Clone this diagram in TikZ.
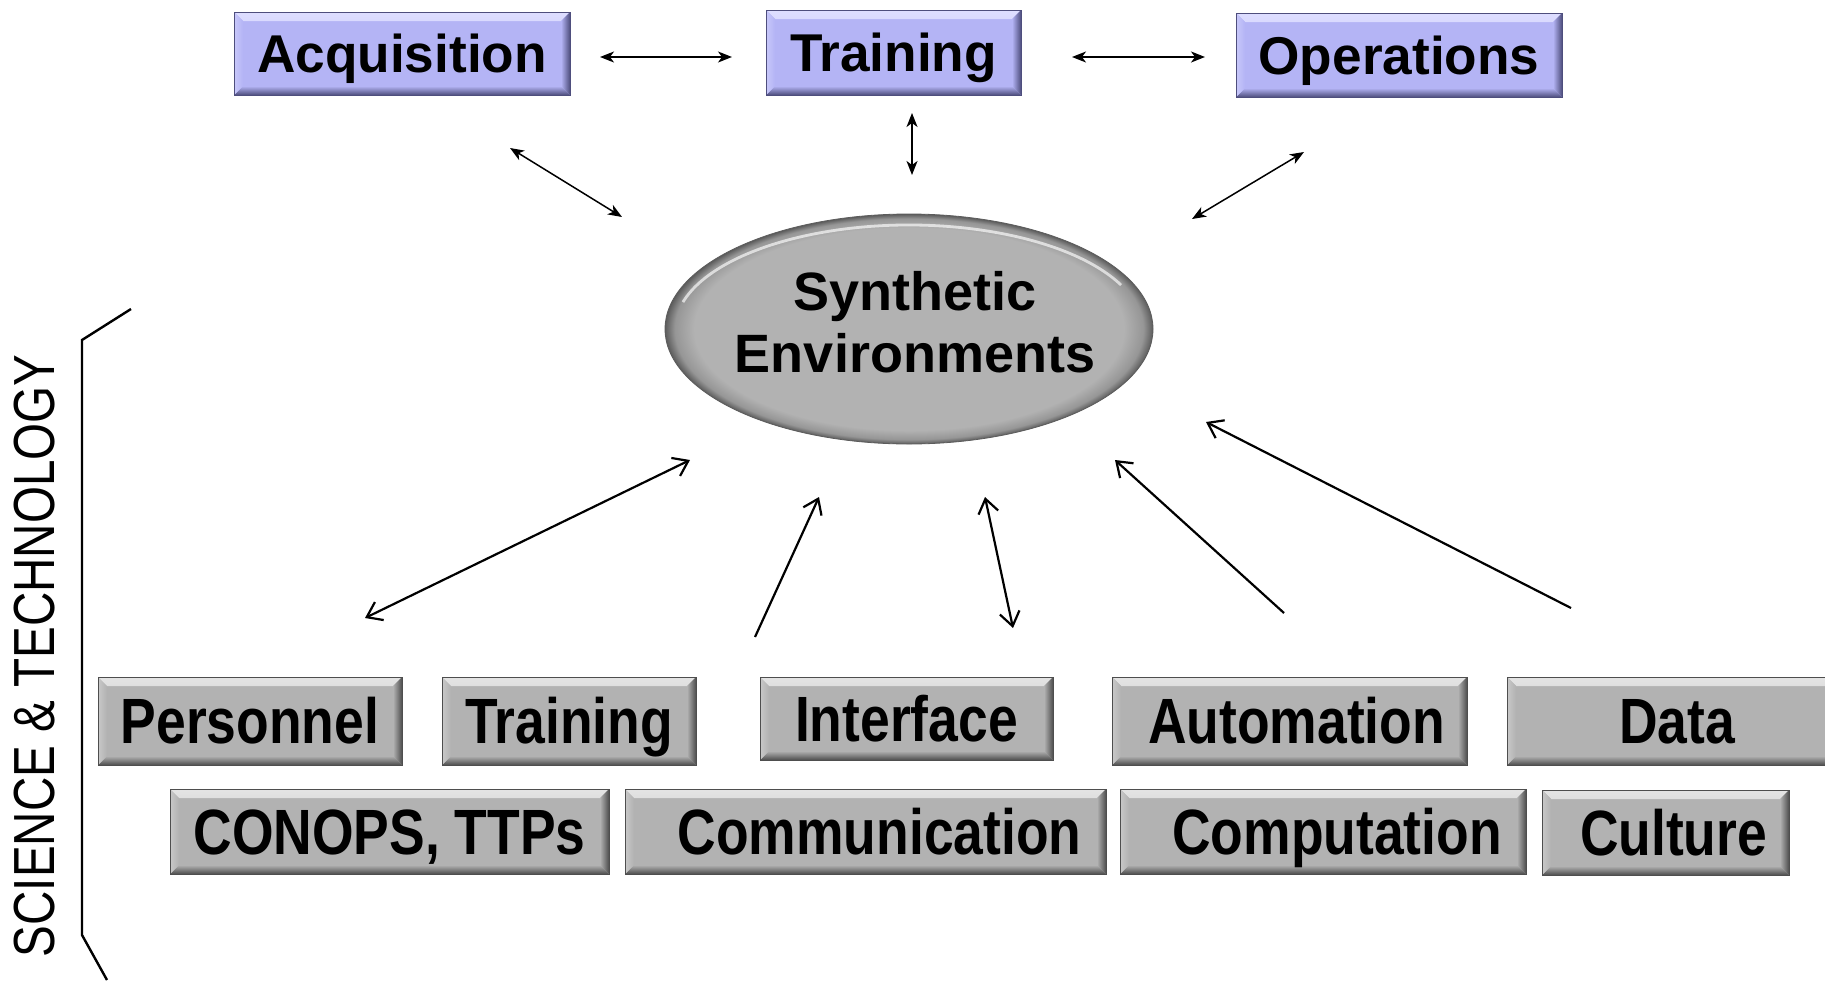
\documentclass[tikz,border=0pt]{standalone}
\usepackage{fontspec}
\setmainfont{Liberation Sans}
\newfontfamily\narrowfont[FakeStretch=0.835]{Liberation Sans}
\newfontfamily\sidefont[FakeStretch=0.82]{Liberation Sans}
\usetikzlibrary{arrows.meta,shapes.geometric}

\definecolor{lav}{RGB}{180,180,245}
\definecolor{lavlt}{RGB}{222,222,255}
\definecolor{lavdk}{RGB}{78,78,125}
\definecolor{lavside}{RGB}{200,200,250}
\definecolor{gbase}{RGB}{178,178,178}
\definecolor{glt}{RGB}{228,228,228}
\definecolor{gdk}{RGB}{78,78,78}
\definecolor{gside}{RGB}{200,200,200}
\definecolor{segray}{RGB}{178,178,178}
\definecolor{serimA}{RGB}{150,150,150}
\definecolor{serimB}{RGB}{92,92,92}

\pgfdeclareradialshading{serim}{\pgfpoint{0bp}{0bp}}{color(0bp)=(segray); color(22bp)=(segray); color(24bp)=(serimA); color(25bp)=(serimB); color(50bp)=(serimB)}

\def\bvw{4.5pt}
\newcommand\bevelpic[4]{%
  \shade[top color=#2,bottom color=#1] (path picture bounding box.north west) -- (path picture bounding box.north east) -- ([shift={(-\bvw,-\bvw)}]path picture bounding box.north east) -- ([shift={(\bvw,-\bvw)}]path picture bounding box.north west) -- cycle;
  \shade[top color=#1,bottom color=#3] (path picture bounding box.south west) -- (path picture bounding box.south east) -- ([shift={(-\bvw,\bvw)}]path picture bounding box.south east) -- ([shift={(\bvw,\bvw)}]path picture bounding box.south west) -- cycle;
  \shade[left color=#4,right color=#1] (path picture bounding box.north west) -- ([shift={(\bvw,-\bvw)}]path picture bounding box.north west) -- ([shift={(\bvw,\bvw)}]path picture bounding box.south west) -- (path picture bounding box.south west) -- cycle;
  \shade[left color=#1,right color=#3] (path picture bounding box.north east) -- ([shift={(-\bvw,-\bvw)}]path picture bounding box.north east) -- ([shift={(-\bvw,\bvw)}]path picture bounding box.south east) -- (path picture bounding box.south east) -- cycle;
}
\newcommand\mytopfont{\bfseries\fontsize{26.6}{31.5}\selectfont}
\newcommand\myelfont{\bfseries\fontsize{27}{31}\selectfont}
\newcommand\mybotfont{\narrowfont\bfseries\fontsize{32}{32}\selectfont}

\tikzset{
  btn/.style n args={4}{rectangle, inner sep=0pt, fill=#1, draw=#3, line width=0.4pt,
    path picture={\bevelpic{#1}{#2}{#3}{#4}}},
  topbtn/.style={btn={lav}{lavlt}{lavdk}{lavside}, font=\mytopfont, text height=19pt, text depth=0pt},
  botbtn/.style={btn={gbase}{glt}{gdk}{gside}, font=\mybotfont, text height=22.9pt, text depth=0pt},
  topar/.style={line width=0.75pt, >={Stealth[length=7pt,width=5.5pt,inset=2pt]}},
  botar/.style={line width=1.1pt, >={Straight Barb[length=7pt,width=10pt]}},
}

\begin{document}
\begin{tikzpicture}[x=0.5pt,y=-0.5pt]
\fill[white] (0,0) rectangle (1825,980);
\useasboundingbox (0,0) rectangle (1825,980);

% top boxes
\node[topbtn, minimum width=168pt, minimum height=41.5pt] (acq) at (402,53.5) {Acquisition};
\node[topbtn, minimum width=127.5pt, minimum height=42.5pt] (trn) at (893.5,52.5) {Training};
\node[topbtn, minimum width=163pt, minimum height=42pt] (ops) at (1399,55) {Operations};

% ellipse
\node[ellipse, inner sep=0pt, minimum width=244pt, minimum height=115pt, shading=serim, draw=serimB, line width=0.4pt] (se) at (909,329) {};
\draw[white, opacity=0.65, line width=1.4pt] (se.center) ++(25:117pt and 52pt) arc[start angle=25, end angle=165, x radius=117pt, y radius=52pt];
\node[align=center, font=\myelfont, xshift=3pt, yshift=3.5pt] (setext) at (se.center) {Synthetic\\Environments};

% bottom boxes row 1
\node[botbtn, minimum width=152pt, minimum height=44pt] (pers) at (250,721) {Personnel};
\node[botbtn, minimum width=127pt, minimum height=44pt] (btrn) at (569,721) {Training};
\node[botbtn, minimum width=146.5pt, minimum height=41.5pt] (intf) at (906.5,718.5) {Interface};
\node[botbtn, minimum width=177.5pt, minimum height=44pt] (auto) at (1289.5,721) {\hspace*{7pt}Automation};
\node[botbtn, minimum width=170pt, minimum height=44pt] (data) at (1677,721) {Data};
% row 2
\node[botbtn, minimum width=219.5pt, minimum height=42.5pt] (conops) at (389.5,831.5) {CONOPS, TTPs};
\node[botbtn, minimum width=240.5pt, minimum height=42.5pt] (comm) at (865.5,831.5) {\hspace*{14pt}Communication};
\node[botbtn, minimum width=203pt, minimum height=42.5pt] (comp) at (1323,831.5) {\hspace*{14pt}Computation};
\node[botbtn, minimum width=123.5pt, minimum height=42.5pt] (cult) at (1665.5,832.5) {\hspace*{8pt}Culture};

% side label and bracket
\node[rotate=90, font=\sidefont\fontsize{29}{29}\selectfont, inner sep=0pt] (st) at (35,656) {SCIENCE \& TECHNOLOGY};
\draw[line width=1.2pt] (131,309) -- (82,340) -- (82,935) -- (107,980);

% connector end points
\coordinate (acqR) at (600,57);
\coordinate (trnL) at (732,57);
\coordinate (trnR) at (1072,57);
\coordinate (opsL) at (1205,57);
\coordinate (trnB) at (912,113);
\coordinate (seT) at (912,175);
\coordinate (acqB) at (510,148);
\coordinate (seTL) at (622,217);
\coordinate (opsB) at (1304,152);
\coordinate (seTR) at (1192,219);
\coordinate (persT) at (365,618);
\coordinate (seBL) at (690,460);
\coordinate (btrnT) at (755,637);
\coordinate (seB1) at (819,497);
\coordinate (seB2) at (985,497);
\coordinate (intfT) at (1013,628);
\coordinate (autoT) at (1284,613);
\coordinate (seB3) at (1115,460);
\coordinate (dataT) at (1571,608);
\coordinate (seBR) at (1206,422);

% top connectors
\draw[topar,<->] (acqR) -- (trnL);
\draw[topar,<->] (trnR) -- (opsL);
\draw[topar,<->] (trnB) -- (seT);
\draw[topar,<->] (acqB) -- (seTL);
\draw[topar,<->] (opsB) -- (seTR);

% bottom connectors
\draw[botar,<->] (persT) -- (seBL);
\draw[botar,->] (btrnT) -- (seB1);
\draw[botar,<->] (seB2) -- (intfT);
\draw[botar,->] (autoT) -- (seB3);
\draw[botar,->] (dataT) -- (seBR);
\end{tikzpicture}
\end{document}
